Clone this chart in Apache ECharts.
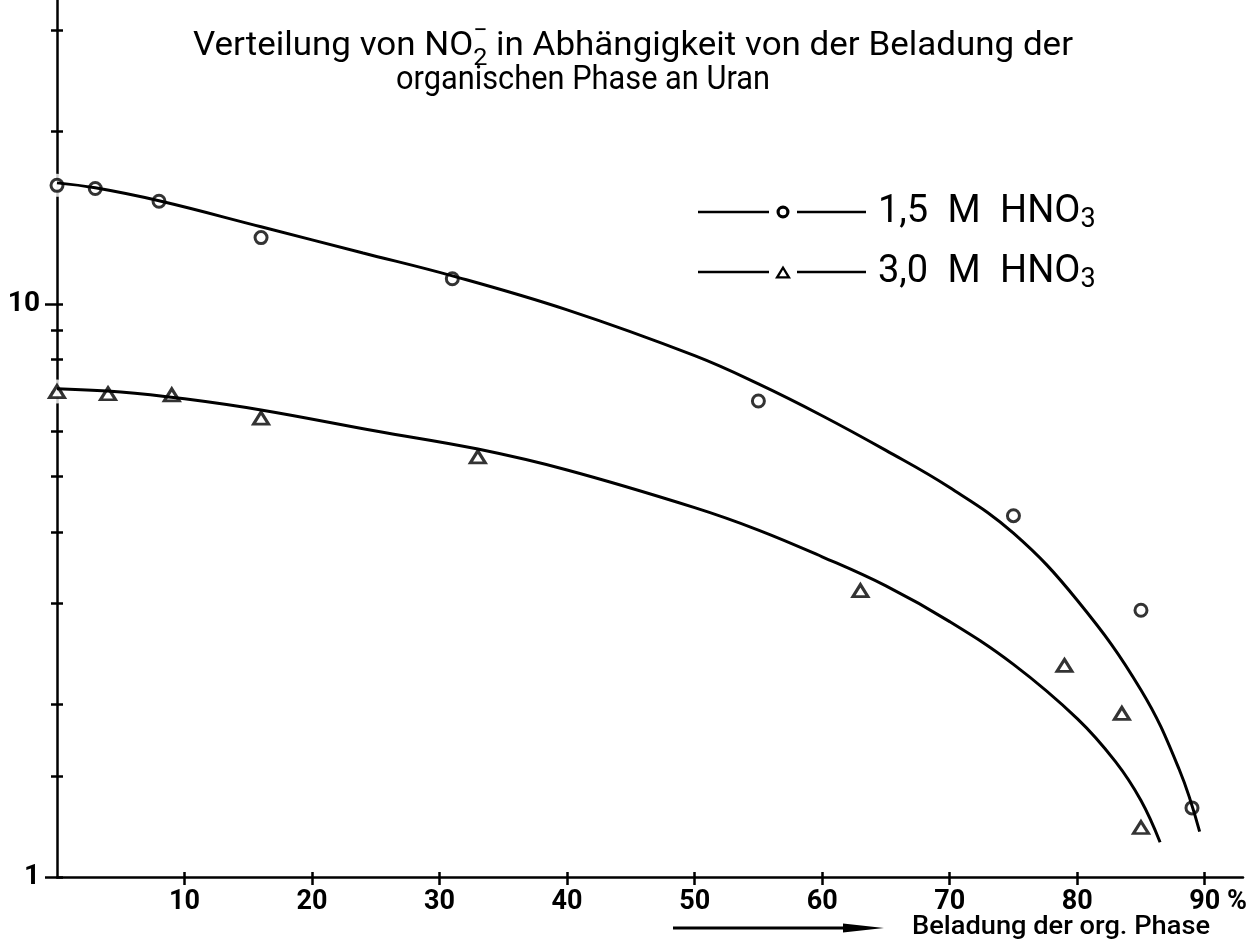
<!DOCTYPE html>
<html>
<head>
<meta charset="utf-8">
<script src="https://cdn.jsdelivr.net/npm/echarts@6/dist/echarts.min.js"></script>
<style>
  html, body { margin: 0; padding: 0; background: #fff; }
  #chart { width: 1254px; height: 952px; }
</style>
</head>
<body>
<div id="chart"></div>
<script>
// Measured points: loading of the organic phase with uranium (%) vs. NO2- distribution
const loading15 = [0, 3, 8, 16, 31, 55, 75, 85, 89];
const dist15    = [16.1, 15.9, 15.1, 13.05, 11.06, 6.77, 4.27, 2.92, 1.32];
const loading30 = [0, 4, 9, 16, 33, 63, 79, 83.5, 85];
const dist30    = [7.03, 6.97, 6.94, 6.32, 5.41, 3.16, 2.34, 1.93, 1.22];

// Hand-drawn fit curves through the measurements
const curveX15 = [0, 3, 8, 16, 24, 31, 40, 50, 55, 60, 65, 70, 75, 80, 85, 88, 89.6];
const curveY15 = [16.26, 15.94, 15.13, 13.63, 12.27, 11.19, 9.76, 8.12, 7.25, 6.38, 5.55, 4.78, 3.98, 3.04, 2.12, 1.54, 1.20];
const curveX30 = [0, 5, 10, 16, 25, 33, 40, 50, 55, 60, 65, 70, 75, 80, 83, 85, 86.5];
const curveY30 = [7.11, 7.02, 6.83, 6.53, 6.00, 5.58, 5.13, 4.41, 4.03, 3.62, 3.22, 2.79, 2.35, 1.89, 1.59, 1.36, 1.15];

// Axis ticks and labels
const yTicks  = [1, 1.5, 2, 3, 4, 5, 6, 7, 8, 9, 10, 20, 30];
const yMajor  = [1, 10];
const xTicks  = [10, 20, 30, 40, 50, 60, 70, 80, 90];

const seriesNames = ['1,5 M HNO3', '3,0 M HNO3'];

const zip = (xs, ys) => xs.map((x, i) => [x, ys[i]]);

const FONT = 'Roboto, "DejaVu Sans", sans-serif';
const ctx = document.createElement('canvas').getContext('2d');
function textWidth(t, size, weight) {
  ctx.font = (weight || 'normal') + ' ' + size + 'px ' + FONT;
  return ctx.measureText(t).width;
}

// Title with NO2- (subscript 2, superscript minus stacked), lettering fitted to width
const tA = 'Verteilung von NO';
const tB = ' in Abhängigkeit von der Beladung der';
const tLine2 = 'organischen Phase an Uran';
const ts = 34, tw = 'normal';
const tFont = tw + ' ' + ts + 'px ' + FONT;
const sFont = tw + ' ' + (ts * 0.72) + 'px ' + FONT;
const wA = textWidth(tA, ts, tw);
const w2 = textWidth('2', ts * 0.72, tw);
const wB = textWidth(tB, ts, tw);
const k1 = 880 / (wA + w2 + wB);
const k2 = 374 / textWidth(tLine2, ts, tw);
const t1x = 193, t1y = 46, t2y = 80, t2x = 396;

// axis caption
const xName = 'Beladung der org. Phase';
const capFont = '500 26px ' + FONT;
const kc = 298 / textWidth(xName, 26, 500);

// legend keys: line broken around an open marker (168 x 13 box)
const bars = 'M0,5.3 H71 V7.7 H0 Z M99,5.3 H168 V7.7 H99 Z ';
const ringIcon = 'path://' + bars +
  'M78.5,6.5 A6.5,6.5 0 1 0 91.5,6.5 A6.5,6.5 0 1 0 78.5,6.5 Z ' +
  'M81.7,6.5 A3.3,3.3 0 1 1 88.3,6.5 A3.3,3.3 0 1 1 81.7,6.5 Z';
const triIcon = 'path://' + bars +
  'M77,13 L93,13 L85,0 Z M81.2,10.8 L85,4.3 L88.8,10.8 Z';

const blk = '#000';
const sp = '\u2002';

const option = {
  animation: false,
  backgroundColor: '#fff',
  grid: { left: 57, right: 11, top: 0, bottom: 75, containLabel: false },
  legend: {
    data: [
      { name: seriesNames[0], icon: ringIcon },
      { name: seriesNames[1], icon: triIcon }
    ],
    orient: 'vertical',
    left: 693,
    top: 188,
    itemWidth: 168,
    itemHeight: 13,
    itemGap: 19,
    selectedMode: false,
    itemStyle: { color: blk, borderWidth: 0 },
    textStyle: {
      fontFamily: FONT, fontSize: 38, color: blk, padding: [0, 0, 0, 7],
      rich: {
        m: { fontFamily: FONT, fontSize: 38, lineHeight: 44, color: blk },
        sub: { fontFamily: FONT, fontSize: 27, lineHeight: 20, verticalAlign: 'bottom', color: blk }
      }
    },
    formatter: n => '{m|' + n.replace('HNO3', 'HNO').replace(/ /g, sp) + '}{sub|3}'
  },
  xAxis: [
    {
      type: 'value', min: 0, max: 93,
      splitLine: { show: false },
      axisLine: { show: true, lineStyle: { color: blk, width: 2.5 } },
      axisTick: { show: true, inside: false, length: 8, customValues: xTicks, lineStyle: { color: blk, width: 2.5 } },
      axisLabel: {
        customValues: xTicks, margin: 12, color: blk, fontFamily: FONT, fontSize: 27, fontWeight: 'bold',
        formatter: v => v === 90 ? '{h| %}90 %' : String(v),
        rich: { h: { color: 'rgba(0,0,0,0)', fontFamily: FONT, fontSize: 27, fontWeight: 'bold' } }
      }
    },
    {
      type: 'value', min: 0, max: 93, position: 'bottom',
      splitLine: { show: false },
      axisLine: { show: false },
      axisTick: { show: true, inside: true, length: 5, customValues: xTicks, lineStyle: { color: blk, width: 2.5 } },
      axisLabel: { show: false }
    }
  ],
  yAxis: [
    {
      type: 'log', logBase: 10, min: 1, max: 33.9,
      splitLine: { show: false },
      axisLine: { show: true, lineStyle: { color: blk, width: 2.5 } },
      axisTick: { show: true, inside: false, length: 6, customValues: yTicks, lineStyle: { color: blk, width: 2.5 } },
      axisLabel: { customValues: yMajor, margin: 17, color: blk, fontFamily: FONT, fontSize: 28, fontWeight: 'bold' }
    },
    {
      type: 'log', logBase: 10, min: 1, max: 33.9, position: 'left',
      splitLine: { show: false },
      axisLine: { show: false },
      axisTick: { show: true, inside: false, length: 12, customValues: yMajor, lineStyle: { color: blk, width: 2.5 } },
      axisLabel: { show: false }
    },
    {
      type: 'log', logBase: 10, min: 1, max: 33.9, position: 'left',
      splitLine: { show: false },
      axisLine: { show: false },
      axisTick: { show: true, inside: true, length: 6, customValues: yTicks, lineStyle: { color: blk, width: 2.5 } },
      axisLabel: { show: false }
    }
  ],
  series: [
    {
      name: seriesNames[0], type: 'line', data: zip(curveX15, curveY15), smooth: 0.4,
      symbol: 'emptyCircle', symbolSize: 11, showSymbol: false, silent: true,
      lineStyle: { color: blk, width: 3 }, itemStyle: { color: blk }
    },
    {
      name: seriesNames[1], type: 'line', data: zip(curveX30, curveY30), smooth: 0.4,
      symbol: 'emptyTriangle', symbolSize: 12, showSymbol: false, silent: true,
      lineStyle: { color: blk, width: 3 }, itemStyle: { color: blk }
    },
    // white clearance around the markers, breaking the curves and axis as drawn
    {
      type: 'scatter', data: zip(loading15, dist15), symbol: 'circle', symbolSize: 23, silent: true,
      itemStyle: { color: '#fff' }
    },
    {
      type: 'scatter', data: zip(loading30, dist30), symbol: 'circle', symbolSize: 24, silent: true,
      itemStyle: { color: '#fff' }
    },
    {
      type: 'scatter', data: zip(loading15, dist15), symbol: 'circle', symbolSize: 12, silent: true,
      itemStyle: { color: '#fff', borderColor: blk, borderWidth: 3 }
    },
    {
      type: 'scatter', data: zip(loading30, dist30), symbol: 'triangle', symbolSize: [15, 12], silent: true,
      itemStyle: { color: '#fff', borderColor: blk, borderWidth: 3 }
    }
  ],
  graphic: [
    { type: 'text', x: t1x, y: t1y, scaleX: k1, style: { text: tA, font: tFont, fill: blk, align: 'left', verticalAlign: 'middle' } },
    { type: 'text', x: t1x + k1 * wA, y: t1y + ts * 0.38, scaleX: k1, style: { text: '2', font: sFont, fill: blk, align: 'left', verticalAlign: 'middle' } },
    { type: 'text', x: t1x + k1 * (wA + w2 / 2), y: t1y - ts * 0.42, scaleX: k1, style: { text: '\u2212', font: sFont, fill: blk, align: 'center', verticalAlign: 'middle' } },
    { type: 'text', x: t1x + k1 * (wA + w2), y: t1y, scaleX: k1, style: { text: tB, font: tFont, fill: blk, align: 'left', verticalAlign: 'middle' } },
    { type: 'text', x: t2x, y: t2y, scaleX: k2, style: { text: tLine2, font: tFont, fill: blk, align: 'left', verticalAlign: 'middle' } },
    // axis caption with arrow
    { type: 'line', shape: { x1: 673, y1: 928, x2: 850, y2: 928 }, style: { stroke: blk, lineWidth: 3 } },
    { type: 'polygon', shape: { points: [[843, 923.5], [884, 928], [843, 932.5]] }, style: { fill: blk } },
    { type: 'text', x: 912, y: 927, scaleX: kc, style: { text: xName, font: capFont, fill: blk, align: 'left', verticalAlign: 'middle' } }
  ]
};

const chart = echarts.init(document.getElementById('chart'));
chart.setOption(option);
</script>
</body>
</html>
